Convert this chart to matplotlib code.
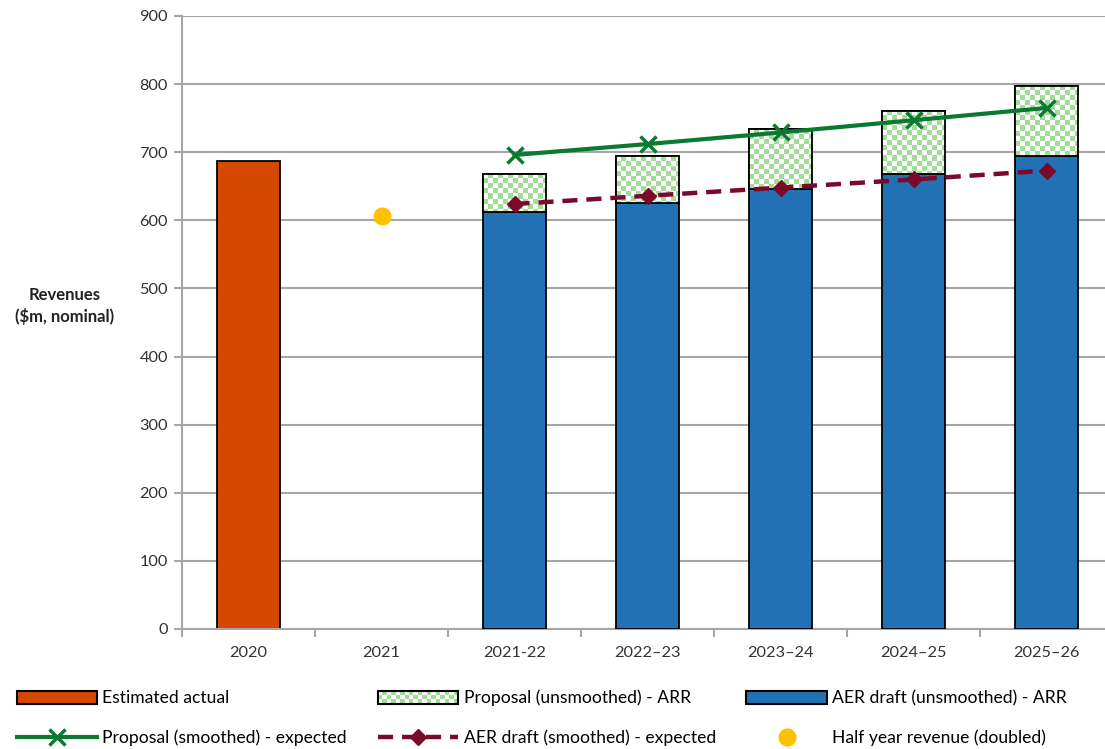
import numpy as np
import matplotlib.pyplot as plt
from matplotlib.patches import Rectangle
from matplotlib.lines import Line2D
from matplotlib.legend_handler import HandlerBase

plt.rcParams['font.family'] = ['Lato', 'DejaVu Sans']

years = ['2020', '2021', '2021-22', '2022\u201323', '2023\u201324', '2024\u201325', '2025\u201326']
estimated_actual = 687          # 2020
half_year_doubled = 606         # 2021
aer_draft_arr = [612, 626, 646, 668, 694]
proposal_arr = [668, 695, 734, 761, 797]
proposal_expected = [696, 712, 729, 747, 765]
aer_expected = [624, 636, 648, 660, 673]

ORANGE = '#d54800'
BLUE = '#2271b5'
CHECK = '#a3dc98'
GREEN = '#0a7a30'
MAROON = '#7b0a2a'
YELLOW = '#ffc000'
GRID = '#a6a6a6'

fig = plt.figure(figsize=(11.05, 7.49), dpi=100)
ax = fig.add_axes([182 / 1105, 1 - 629 / 749, 931 / 1105, (629 - 16) / 749])

x = np.arange(len(years))
xp = x[2:]
width = 0.48

ax.set_xlim(-0.5, len(years) - 0.5)
ax.set_ylim(0, 900)

ax.bar(x[0], estimated_actual, width, color=ORANGE, edgecolor='black', linewidth=1.3, zorder=2)
ax.bar(xp, aer_draft_arr, width, color=BLUE, edgecolor='black', linewidth=1.3, zorder=3)

# proposal bars sit on top of the AER draft bars, filled with a checker pattern
extra = np.array(proposal_arr) - np.array(aer_draft_arr)
tops = ax.bar(xp, extra, width, bottom=aer_draft_arr, color='white',
              edgecolor='black', linewidth=1.3, zorder=3)
cell_px = 5.0
for bar in tops:
    x0, y0 = bar.get_x(), bar.get_y()
    w, h = bar.get_width(), bar.get_height()
    p0 = ax.transData.transform((x0, y0))
    p1 = ax.transData.transform((x0 + w, y0 + h))
    nc = int(np.ceil((p1[0] - p0[0]) / cell_px))
    nr = int(np.ceil((p1[1] - p0[1]) / cell_px))
    board = (np.indices((nr, nc)).sum(axis=0) % 2).astype(float)
    w_fit = nc * cell_px / (p1[0] - p0[0]) * w
    h_fit = nr * cell_px / (p1[1] - p0[1]) * h
    img = ax.imshow(board, cmap=plt.matplotlib.colors.ListedColormap(['white', CHECK]),
                    extent=(x0, x0 + w_fit, y0 + h - h_fit, y0 + h), origin='upper',
                    interpolation='nearest', aspect='auto', zorder=3.1)
    img.set_clip_path(bar)
    edge = Rectangle((x0, y0), w, h, fill=False, edgecolor='black', linewidth=1.3, zorder=3.2)
    ax.add_patch(edge)

ax.plot(xp, proposal_expected, color=GREEN, linewidth=3, marker='x', markersize=11,
        markeredgewidth=2.5, zorder=5)
ax.plot(xp, aer_expected, color=MAROON, linewidth=3.2, linestyle=(0, (3.4, 2)),
        marker='D', markersize=8, zorder=5)
ax.plot(x[1], half_year_doubled, 'o', color=YELLOW, markersize=12, zorder=5)

ax.set_aspect('auto')
ax.set_yticks(np.arange(0, 901, 100))
ax.yaxis.grid(True, color=GRID, linewidth=1.5)
ax.set_axisbelow(True)
ax.set_xticks(np.arange(-0.5, len(years), 1.0))
ax.set_xticklabels([])
ax.set_xticks(x, minor=True)
ax.set_xticklabels(years, minor=True)
ax.tick_params(axis='x', which='major', length=6, width=1.5, color=GRID, direction='out')
ax.tick_params(axis='x', which='minor', length=0, pad=12, labelsize=11.8, labelcolor='#333333')
ax.tick_params(axis='y', length=6, width=1.5, color=GRID, pad=4, labelsize=11.8, labelcolor='#333333')
for s in ['top', 'right']:
    ax.spines[s].set_visible(False)
for s in ['left', 'bottom']:
    ax.spines[s].set_color(GRID)
    ax.spines[s].set_linewidth(1.5)

fig.text(65 / 1105, 1 - 306 / 749, 'Revenues\n($m, nominal)', ha='center', va='center',
         fontsize=12, fontweight='bold', color='#222222', linespacing=1.4)


class CheckerHandler(HandlerBase):
    def create_artists(self, legend, orig_handle, xdescent, ydescent, width, height, fontsize, trans):
        arts = [Rectangle((-xdescent, -ydescent), width, height, facecolor='white',
                          edgecolor='none', transform=trans)]
        rows = 3
        cell = height / rows
        cols = int(width / cell)
        for r in range(rows):
            for c in range(cols):
                if (r + c) % 2 == 1:
                    arts.append(Rectangle((-xdescent + c * cell, -ydescent + r * cell), cell, cell,
                                          facecolor=CHECK, edgecolor='none', transform=trans))
        arts.append(Rectangle((-xdescent, -ydescent), width, height, fill=False,
                              edgecolor='black', linewidth=1.5, transform=trans))
        return arts


h_est = Rectangle((0, 0), 1, 1, facecolor=ORANGE, edgecolor='black', linewidth=1.5)
h_prop = Rectangle((0, 0), 1, 1, facecolor='white', edgecolor='black')
h_aer = Rectangle((0, 0), 1, 1, facecolor=BLUE, edgecolor='black', linewidth=1.5)
h_pexp = Line2D([], [], color=GREEN, linewidth=3, marker='x', markersize=11, markeredgewidth=2.5)
h_aexp = Line2D([], [], color=MAROON, linewidth=3.2, linestyle=(0, (3.4, 2)), marker='D', markersize=8)
h_half = Line2D([], [], color=YELLOW, linestyle='none', marker='o', markersize=12)

handles = [h_est, h_pexp, h_prop, h_aexp, h_aer, h_half]
labels = ['Estimated actual', 'Proposal (smoothed) - expected',
          'Proposal (unsmoothed) - ARR', 'AER draft (smoothed) - expected',
          'AER draft (unsmoothed) - ARR', 'Half year revenue (doubled)']
fig.legend(handles, labels, ncol=3, loc='upper left', bbox_to_anchor=(8 / 1105, 1 - 681 / 749),
           frameon=False, fontsize=12.6, handlelength=4.6, handleheight=0.8, handletextpad=0.3,
           labelspacing=1.35, columnspacing=1.75, borderpad=0, numpoints=1,
           handler_map={h_prop: CheckerHandler()})

fig.savefig('out.png', dpi=100)
